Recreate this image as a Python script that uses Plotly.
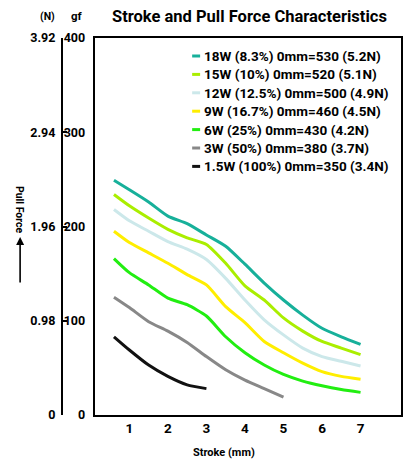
import plotly.graph_objects as go

stroke_mm = [0.6, 1, 1.5, 2, 2.5, 3, 3.5, 4, 4.5, 5, 5.5, 6, 6.5, 7]
force_18w = [249, 239, 226, 211, 203, 191, 179, 160, 140, 122, 106, 92, 83, 75]
force_15w = [234, 222, 209, 197, 188, 181, 161, 137, 122, 103, 89, 78, 71, 64]
force_12w = [218, 206, 195, 184, 176, 165, 145, 122, 101, 85, 71, 62, 57, 52]
force_9w = [195, 183, 172, 161, 149, 138, 115, 98, 78, 66, 55, 46, 41, 38]
force_6w = [166, 151, 138, 124, 117, 105, 83, 66, 53, 43, 36, 31, 27, 24]
force_3w = [125, 114, 99, 89, 77, 62, 48, 37, 28, 19]
force_1_5w = [83, 69, 53, 41, 32, 28]

series_names = [
    "18W (8.3%) 0mm=530 (5.2N)",
    "15W (10%) 0mm=520 (5.1N)",
    "12W (12.5%) 0mm=500 (4.9N)",
    "9W (16.7%) 0mm=460 (4.5N)",
    "6W (25%) 0mm=430 (4.2N)",
    "3W (50%) 0mm=380 (3.7N)",
    "1.5W (100%) 0mm=350 (3.4N)",
]
series_values = [force_18w, force_15w, force_12w, force_9w, force_6w, force_3w, force_1_5w]
series_colors = ["#17b09a", "#aaee00", "#cce8ea", "#ffee00", "#22ee11", "#888888", "#111111"]

gf_ticks = [0, 100, 200, 300, 400]
n_ticks = [0, 0.98, 1.96, 2.94, 3.92]
n_labels = ["0", "0.98", "1.96", "2.94", "3.92"]
x_ticks = [1, 2, 3, 4, 5, 6, 7]

FONT = "Roboto, Liberation Sans, sans-serif"

W, H = 407, 463
ML, MR, MT, MB = 40, 4, 38, 48
PW = W - ML - MR
PH = H - MT - MB


def px_x(px):
    return (px - ML) / PW


def px_y(py):
    return (H - MB - py) / PH


def fnt(size):
    return dict(family=FONT, size=size, color="black", weight="bold")


fig = go.Figure()
for name, vals, col in zip(series_names, series_values, series_colors):
    fig.add_trace(go.Scatter(
        x=stroke_mm[:len(vals)], y=vals, mode="lines", name=name,
        line=dict(color=col, width=3, shape="spline", smoothing=0.6),
        showlegend=False, hoverinfo="skip"))

# invisible trace to materialise the Newton axis
fig.add_trace(go.Scatter(x=[None], y=[None], yaxis="y2", showlegend=False,
                         hoverinfo="skip"))

annotations = []
shapes = []
leg_y0 = 56
leg_dy = 18.4
for i, (name, col) in enumerate(zip(series_names, series_colors)):
    yy = leg_y0 + i * leg_dy
    shapes.append(dict(type="line", xref="paper", yref="paper",
                       x0=px_x(193), x1=px_x(201), y0=px_y(yy), y1=px_y(yy),
                       line=dict(color=col, width=3)))
    annotations.append(dict(text=name, xref="paper", yref="paper",
                            x=px_x(203), y=px_y(yy), xanchor="left", yanchor="middle",
                            showarrow=False, font=fnt(13.5)))

annotations += [
    dict(text="Stroke and Pull Force Characteristics", xref="paper", yref="paper",
         x=px_x(251), y=px_y(17), xanchor="center", yanchor="middle", showarrow=False,
         font=fnt(16.5)),
    dict(text="(N)", xref="paper", yref="paper", x=px_x(48), y=px_y(16),
         xanchor="center", yanchor="middle", showarrow=False, font=fnt(10.5)),
    dict(text="gf", xref="paper", yref="paper", x=px_x(77), y=px_y(16),
         xanchor="center", yanchor="middle", showarrow=False, font=fnt(11.5)),
    dict(text="Stroke (mm)", xref="paper", yref="paper", x=px_x(225), y=px_y(452),
         xanchor="center", yanchor="middle", showarrow=False, font=fnt(11)),
    dict(text="Pull Force", xref="paper", yref="paper", x=px_x(20), y=px_y(210),
         xanchor="center", yanchor="middle", showarrow=False, textangle=90,
         font=fnt(10.5)),
    dict(text="", xref="paper", yref="paper", x=px_x(20), y=px_y(237),
         ax=0, ay=47, axref="pixel", ayref="pixel",
         showarrow=True, arrowhead=2, arrowsize=1, arrowwidth=1.6, arrowcolor="black"),
]

fig.update_layout(
    width=W, height=H,
    margin=dict(l=ML, r=MR, t=MT, b=MB),
    paper_bgcolor="white", plot_bgcolor="white",
    font=fnt(13),
    xaxis=dict(domain=[px_x(95), 1], range=[0.1, 8.05], tickvals=x_ticks,
               showgrid=False, zeroline=False, showline=True, mirror=True,
               linecolor="black", linewidth=2, ticks="", tickfont=fnt(13.5)),
    yaxis=dict(range=[0, 400], tickvals=gf_ticks, showgrid=False, zeroline=False,
               showline=True, mirror=True, linecolor="black", linewidth=2, ticks="",
               ticklabelstandoff=5, tickfont=fnt(12.5)),
    yaxis2=dict(overlaying="y", anchor="free", side="left", position=px_x(62),
                range=[0, 3.92], tickvals=n_ticks, ticktext=n_labels,
                showgrid=False, zeroline=False, showline=True, linecolor="black",
                linewidth=2, ticks="inside", ticklen=4, tickwidth=1.5, tickcolor="black",
                ticklabelstandoff=3, tickfont=fnt(12.5)),
    annotations=annotations,
    shapes=shapes,
)

fig.write_html("out.html", config={"displayModeBar": False},
               post_script="document.body.style.margin='0';")
